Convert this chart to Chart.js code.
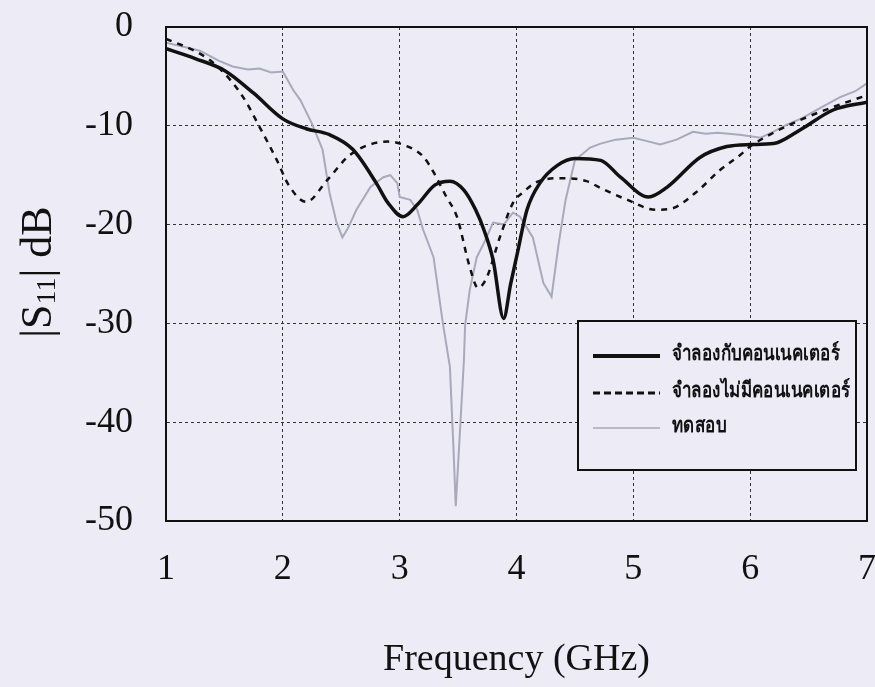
<!DOCTYPE html>
<html lang="th">
<head>
<meta charset="UTF-8">
<title>|S11| vs Frequency</title>
<script src="https://cdn.jsdelivr.net/npm/chart.js"></script>
<style>
 html, body { margin: 0; padding: 0; background: #ecebf6; }
 #wrap { width: 875px; height: 687px; }
</style>
</head>
<body>
<div id="wrap"><canvas id="s11Chart" width="875" height="687"></canvas></div>
<script>
// series labels (Thai, as in the original)
const seriesNames = ['จำลองกับคอนเนคเตอร์', 'จำลองไม่มีคอนเนคเตอร์', 'ทดสอบ'];

// simulated with connector
const solidFreq = [1.0, 1.25, 1.5, 1.75, 2.0, 2.2, 2.4, 2.6, 2.8, 2.9, 3.03, 3.15, 3.3, 3.43, 3.55, 3.65, 3.72, 3.8, 3.89, 3.95, 4.0, 4.09, 4.2, 4.35, 4.5, 4.72, 4.89, 5.13, 5.29, 5.57, 5.8, 6.0, 6.2, 6.43, 6.71, 7.0];
const solidDb   = [-2.2, -3.2, -4.4, -6.7, -9.3, -10.3, -10.9, -12.4, -15.8, -17.8, -19.2, -18.0, -16.0, -15.6, -16.5, -18.5, -20.5, -23.6, -29.5, -26.0, -23.3, -18.5, -15.8, -14.0, -13.3, -13.5, -15.2, -17.2, -16.2, -13.2, -12.1, -11.9, -11.8, -10.4, -8.4, -7.6];

// simulated without connector
const dashFreq = [1.0, 1.29, 1.46, 1.66, 1.8, 1.95, 2.05, 2.2, 2.38, 2.58, 2.9, 3.05, 3.2, 3.29, 3.4, 3.49, 3.6, 3.67, 3.74, 3.86, 3.97, 4.06, 4.17, 4.4, 4.6, 4.72, 4.95, 5.19, 5.32, 5.54, 5.74, 5.91, 6.0, 6.2, 6.43, 6.71, 7.0];
const dashDb   = [-1.2, -2.7, -4.2, -7.1, -10.1, -13.5, -16.0, -17.7, -15.5, -12.9, -11.6, -12.0, -13.1, -14.7, -17.2, -19.2, -24.3, -26.4, -25.5, -21.2, -17.8, -16.7, -15.7, -15.3, -15.6, -16.3, -17.5, -18.5, -18.4, -16.7, -14.5, -13.0, -12.1, -10.7, -9.4, -8.1, -6.9];

// measured
const measFreq = [1.0, 1.15, 1.29, 1.45, 1.57, 1.7, 1.8, 1.9, 2.0, 2.09, 2.15, 2.25, 2.34, 2.4, 2.46, 2.51, 2.56, 2.63, 2.75, 2.86, 2.92, 2.98, 3.0, 3.09, 3.15, 3.2, 3.29, 3.37, 3.43, 3.46, 3.48, 3.52, 3.55, 3.56, 3.6, 3.66, 3.72, 3.8, 3.89, 3.97, 4.03, 4.14, 4.23, 4.3, 4.36, 4.42, 4.5, 4.63, 4.72, 4.85, 5.0, 5.1, 5.23, 5.37, 5.51, 5.62, 5.72, 5.91, 6.09, 6.2, 6.31, 6.45, 6.57, 6.77, 6.9, 7.0];
const measDb   = [-1.6, -2.0, -2.4, -3.4, -4.0, -4.3, -4.2, -4.6, -4.5, -6.4, -7.4, -9.8, -12.4, -16.8, -19.8, -21.3, -20.3, -18.5, -16.2, -15.2, -15.0, -15.8, -17.2, -17.5, -18.5, -20.5, -23.3, -30.0, -34.4, -42.5, -48.5, -40.1, -33.7, -30.2, -26.6, -23.3, -21.9, -19.8, -20.0, -18.8, -19.2, -21.3, -25.9, -27.3, -22.0, -17.5, -13.5, -12.2, -11.8, -11.4, -11.2, -11.5, -11.9, -11.4, -10.6, -10.8, -10.7, -10.9, -11.2, -10.6, -9.9, -9.2, -8.4, -7.1, -6.5, -5.7];

const xTicks = [1, 2, 3, 4, 5, 6, 7];
const yTicks = [0, -10, -20, -30, -40, -50];

function pts(xs, ys) {
  return xs.map((x, i) => ({ x: x, y: ys[i] }));
}

const serif = "'Liberation Serif', 'Times New Roman', serif";

// page background
const bgPlugin = {
  id: 'bg',
  beforeDraw(chart) {
    const ctx = chart.ctx;
    ctx.save();
    ctx.fillStyle = '#ecebf6';
    ctx.fillRect(0, 0, chart.width, chart.height);
    ctx.restore();
  }
};

// solid frame, y title with subscript and the legend box
const extrasPlugin = {
  id: 'extras',
  afterDatasetsDraw(chart) {
    const ctx = chart.ctx;
    const a = chart.chartArea;
    ctx.save();
    ctx.strokeStyle = '#111';
    ctx.lineWidth = 2;
    ctx.strokeRect(a.left, a.top, a.right - a.left, a.bottom - a.top);
    ctx.restore();
  },
  afterDraw(chart) {
    const ctx = chart.ctx;

    // y axis title: |S11| dB
    ctx.save();
    ctx.translate(51, 272);
    ctx.rotate(-Math.PI / 2);
    ctx.fillStyle = '#111';
    ctx.textBaseline = 'alphabetic';
    const big = '44px ' + serif;
    const small = '28px ' + serif;
    ctx.font = big;
    const w1 = ctx.measureText('|S').width;
    const w3 = ctx.measureText('| dB').width;
    ctx.font = small;
    const w2 = ctx.measureText('11').width;
    let x = -(w1 + w2 + w3) / 2;
    ctx.font = big;
    ctx.fillText('|S', x, 0);
    x += w1;
    ctx.font = small;
    ctx.fillText('11', x, 4);
    x += w2;
    ctx.font = big;
    ctx.fillText('| dB', x, 0);
    ctx.restore();

    // legend
    const bx = 578, by = 321, bw = 278, bh = 149;
    ctx.save();
    ctx.fillStyle = '#ecebf6';
    ctx.fillRect(bx, by, bw, bh);
    ctx.strokeStyle = '#111';
    ctx.lineWidth = 2;
    ctx.strokeRect(bx, by, bw, bh);
    const rows = [356, 393, 428];
    const sets = chart.data.datasets;
    ctx.font = "bold 21px 'Noto Sans', 'DejaVu Sans', sans-serif";
    const sx = 178 / ctx.measureText(sets[1].label).width;
    rows.forEach((ry, i) => {
      const ds = sets[i];
      ctx.beginPath();
      ctx.strokeStyle = ds.borderColor;
      ctx.lineWidth = i === 0 ? 4 : (i === 1 ? 3 : 1.5);
      ctx.setLineDash(i === 1 ? [7, 4] : []);
      ctx.moveTo(593, ry);
      ctx.lineTo(660, ry);
      ctx.stroke();
      ctx.setLineDash([]);
      ctx.save();
      ctx.translate(672, ry - 2);
      ctx.scale(sx, 1);
      ctx.fillStyle = '#111';
      ctx.textBaseline = 'middle';
      ctx.fillText(ds.label, 0, 0);
      ctx.restore();
    });
    ctx.restore();
  }
};

const ctx = document.getElementById('s11Chart').getContext('2d');
new Chart(ctx, {
  type: 'line',
  data: {
    datasets: [
      {
        label: seriesNames[0],
        data: pts(solidFreq, solidDb),
        borderColor: '#111111',
        borderWidth: 3.5,
        pointRadius: 0,
        cubicInterpolationMode: 'monotone',
        order: 1
      },
      {
        label: seriesNames[1],
        data: pts(dashFreq, dashDb),
        borderColor: '#111111',
        borderWidth: 2.5,
        borderDash: [6, 6],
        pointRadius: 0,
        cubicInterpolationMode: 'monotone',
        order: 2
      },
      {
        label: seriesNames[2],
        data: pts(measFreq, measDb),
        borderColor: '#a9a9bb',
        borderWidth: 2,
        pointRadius: 0,
        tension: 0,
        order: 3
      }
    ]
  },
  options: {
    responsive: false,
    animation: false,
    layout: { padding: { left: 0, right: 8, top: 27, bottom: 0 } },
    plugins: {
      legend: { display: false },
      tooltip: { enabled: false }
    },
    scales: {
      x: {
        type: 'linear',
        min: 1,
        max: 7,
        afterBuildTicks(scale) { scale.ticks = xTicks.map(v => ({ value: v })); },
        afterFit(scale) {
          scale.height = 687 - 521;
          scale.paddingLeft = 0;
          scale.paddingRight = 0;
        },
        ticks: {
          color: '#111',
          padding: 27,
          font: { family: serif, size: 36 }
        },
        grid: { color: '#333', lineWidth: 1, drawTicks: false },
        border: { display: true, color: '#111', width: 2, dash: [3, 3] },
        title: {
          display: true,
          text: 'Frequency (GHz)',
          color: '#111',
          padding: { top: 22 },
          font: { family: serif, size: 38 }
        }
      },
      y: {
        type: 'linear',
        min: -50,
        max: 0,
        afterBuildTicks(scale) { scale.ticks = yTicks.map(v => ({ value: v })); },
        afterFit(scale) {
          scale.width = 166;
          scale.paddingTop = 0;
          scale.paddingBottom = 0;
        },
        ticks: {
          color: '#111',
          padding: 33,
          font: { family: serif, size: 36 }
        },
        grid: { color: '#333', lineWidth: 1, drawTicks: false },
        border: { display: true, color: '#111', width: 2, dash: [3, 3] }
      }
    }
  },
  plugins: [bgPlugin, extrasPlugin]
});
</script>
</body>
</html>
